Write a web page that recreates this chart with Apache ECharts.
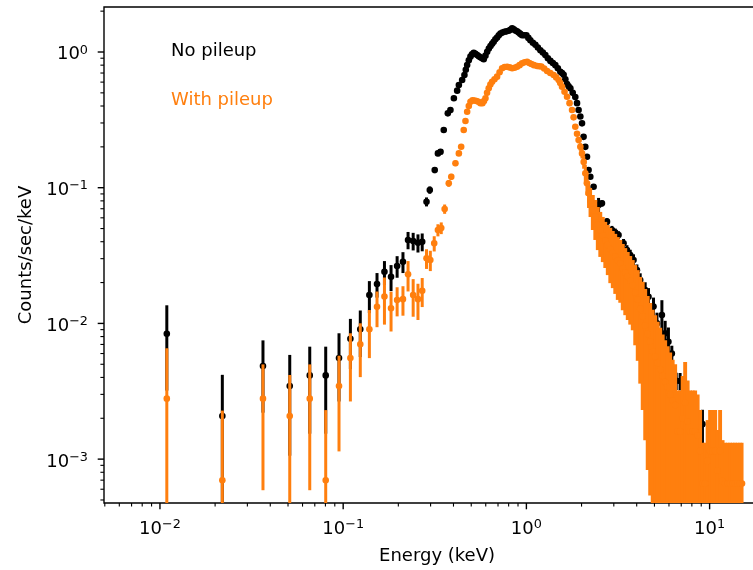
<!DOCTYPE html>
<html>
<head>
<meta charset="utf-8">
<script src="https://cdn.jsdelivr.net/npm/echarts@6/dist/echarts.min.js"></script>
<style>
html,body{margin:0;padding:0;background:#ffffff;overflow:hidden;}
#chart{width:753px;height:570px;}
</style>
</head>
<body>
<div id="chart"></div>
<script>
// ---- axis ranges and ticks ----
const X_MIN = 0.00495, X_MAX = 21.36;
const Y_MIN = 4.75e-4, Y_MAX = 2.146;
const xTickMajor = [0.01, 0.1, 1, 10];
const xTickMinor = [0.005, 0.006, 0.007, 0.008, 0.009,
  0.02, 0.03, 0.04, 0.05, 0.06, 0.07, 0.08, 0.09,
  0.2, 0.3, 0.4, 0.5, 0.6, 0.7, 0.8, 0.9,
  2, 3, 4, 5, 6, 7, 8, 9, 20];
const yTickMajor = [0.001, 0.01, 0.1, 1];
const yTickMinor = [0.0005, 0.0006, 0.0007, 0.0008, 0.0009,
  0.002, 0.003, 0.004, 0.005, 0.006, 0.007, 0.008, 0.009,
  0.02, 0.03, 0.04, 0.05, 0.06, 0.07, 0.08, 0.09,
  0.2, 0.3, 0.4, 0.5, 0.6, 0.7, 0.8, 0.9, 2];

const seriesNames = ['No pileup', 'With pileup'];

// ---- data: [energy keV, counts/sec/keV, error] ----
const noPileup = [
  [0.0109, 0.0084, 0.0052], [0.0219, 0.00208, 0.0021], [0.0365, 0.00485, 0.00265],
  [0.0511, 0.00346, 0.0024], [0.0657, 0.00414, 0.0026], [0.0803, 0.00414, 0.0026],
  [0.0949, 0.00556, 0.0029], [0.1095, 0.0077, 0.0031], [0.124, 0.00905, 0.0034],
  [0.139, 0.0162, 0.0043], [0.153, 0.0195, 0.0040], [0.168, 0.0240, 0.0048],
  [0.1825, 0.0221, 0.0048], [0.197, 0.0265, 0.0048], [0.212, 0.0285, 0.0050],
  [0.226, 0.0412, 0.0060], [0.241, 0.0405, 0.0060], [0.256, 0.0393, 0.0060],
  [0.270, 0.0400, 0.0060], [0.285, 0.0788, 0.0060], [0.297, 0.0962, 0.0060],
  [0.316, 0.135, 0.007], [0.329, 0.179, 0.008], [0.340, 0.184, 0.008],
  [0.354, 0.266, 0.009], [0.3725, 0.353, 0.010], [0.385, 0.374, 0.010],
  [0.402, 0.456, 0.011], [0.419, 0.519, 0.012], [0.428, 0.571, 0.012],
  [0.446, 0.622, 0.013], [0.459, 0.677, 0.013], [0.467, 0.74, 0.013],
  [0.475, 0.802, 0.014], [0.485, 0.87, 0.014], [0.495, 0.924, 0.015],
  [0.505, 0.96, 0.015], [0.516, 0.988, 0.016], [0.527, 0.97, 0.016],
  [0.539, 0.950, 0.016], [0.55, 0.93, 0.016], [0.561, 0.914, 0.016],
  [0.573, 0.90, 0.016], [0.585, 0.884, 0.016], [0.598, 0.94, 0.016],
  [0.611, 1.005, 0.017], [0.624, 1.06, 0.017], [0.637, 1.107, 0.018],
  [0.65, 1.15, 0.018], [0.663, 1.19, 0.018], [0.677, 1.24, 0.018],
  [0.692, 1.28, 0.019], [0.707, 1.33, 0.019], [0.722, 1.37, 0.019],
  [0.74, 1.39, 0.019], [0.759, 1.41, 0.020], [0.78, 1.42, 0.020],
  [0.801, 1.435, 0.020], [0.818, 1.46, 0.020], [0.836, 1.495, 0.020],
  [0.853, 1.47, 0.020], [0.871, 1.44, 0.020], [0.889, 1.42, 0.020],
  [0.908, 1.39, 0.020], [0.927, 1.36, 0.020], [0.947, 1.33, 0.020],
  [0.973, 1.33, 0.020], [1.0, 1.33, 0.020], [1.025, 1.27, 0.020],
  [1.051, 1.22, 0.019], [1.085, 1.17, 0.019], [1.12, 1.13, 0.019],
  [1.155, 1.08, 0.018], [1.192, 1.03, 0.018], [1.23, 0.99, 0.018],
  [1.269, 0.95, 0.017], [1.31, 0.90, 0.017], [1.352, 0.86, 0.016],
  [1.395, 0.83, 0.016], [1.439, 0.80, 0.016], [1.485, 0.76, 0.015],
  [1.532, 0.715, 0.015], [1.565, 0.70, 0.015], [1.597, 0.68, 0.014],
  [1.632, 0.63, 0.014], [1.667, 0.58, 0.013], [1.70, 0.56, 0.013],
  [1.738, 0.54, 0.013], [1.79, 0.50, 0.012], [1.849, 0.466, 0.012],
  [1.89, 0.42, 0.011], [1.927, 0.374, 0.011], [1.97, 0.335, 0.010],
  [2.012, 0.298, 0.010], [2.052, 0.237, 0.009], [2.097, 0.200, 0.008],
  [2.142, 0.169, 0.007], [2.185, 0.135, 0.006], [2.233, 0.1205, 0.0045],
  [2.327, 0.1017, 0.004], [2.477, 0.0746, 0.0095], [2.585, 0.0767, 0.004],
  [2.754, 0.0562, 0.0035], [2.931, 0.0488, 0.0035], [3.055, 0.0468, 0.0032],
  [3.184, 0.0448, 0.003], [3.39, 0.0389, 0.003], [3.538, 0.0347, 0.003],
  [3.688, 0.0319, 0.003], [3.843, 0.0293, 0.003], [4.01, 0.0247, 0.0025],
  [4.18, 0.0209, 0.0025], [4.45, 0.0176, 0.0025], [4.64, 0.0157, 0.0025],
  [4.94, 0.0133, 0.0022], [5.16, 0.0100, 0.0020], [5.49, 0.01153, 0.0033],
  [5.72, 0.00845, 0.0020], [5.96, 0.00733, 0.0020], [6.22, 0.0060, 0.00085],
  [6.57, 0.00378, 0.00055], [6.90, 0.00376, 0.00055], [9.14, 0.00181, 0.0005]
];

const withPileup = [
  [0.0109, 0.00279, 0.00377], [0.0219, 0.000698, 0.00158], [0.0365, 0.00279, 0.0022],
  [0.0511, 0.00208, 0.00209], [0.0657, 0.00279, 0.0022], [0.0803, 0.000698, 0.0016],
  [0.0949, 0.00346, 0.00232], [0.1095, 0.00556, 0.0029], [0.124, 0.00702, 0.0030],
  [0.139, 0.00905, 0.0035], [0.153, 0.01328, 0.0039], [0.168, 0.0158, 0.0060],
  [0.1825, 0.01292, 0.0042], [0.197, 0.01487, 0.0036], [0.212, 0.0151, 0.0037],
  [0.226, 0.0230, 0.0058], [0.241, 0.0162, 0.0050], [0.256, 0.0151, 0.0045],
  [0.270, 0.0174, 0.0042], [0.285, 0.0302, 0.0050], [0.299, 0.0293, 0.0050],
  [0.314, 0.0389, 0.0050], [0.329, 0.0488, 0.0050], [0.343, 0.0505, 0.0050],
  [0.358, 0.0697, 0.0055], [0.377, 0.1077, 0.006], [0.389, 0.1205, 0.006],
  [0.410, 0.1513, 0.007], [0.428, 0.179, 0.007], [0.4406, 0.2005, 0.008],
  [0.455, 0.266, 0.008], [0.465, 0.31, 0.008], [0.475, 0.363, 0.009],
  [0.485, 0.40, 0.009], [0.4953, 0.430, 0.010], [0.508, 0.44, 0.010],
  [0.5206, 0.439, 0.010], [0.534, 0.435, 0.010], [0.5475, 0.430, 0.010],
  [0.561, 0.42, 0.010], [0.5757, 0.419, 0.010], [0.587, 0.435, 0.010],
  [0.598, 0.456, 0.011], [0.61, 0.50, 0.011], [0.623, 0.540, 0.012],
  [0.636, 0.575, 0.012], [0.650, 0.604, 0.012], [0.67, 0.63, 0.012],
  [0.692, 0.658, 0.013], [0.714, 0.71, 0.013], [0.737, 0.759, 0.014],
  [0.76, 0.775, 0.014], [0.785, 0.779, 0.014], [0.81, 0.77, 0.014],
  [0.836, 0.759, 0.014], [0.862, 0.765, 0.014], [0.890, 0.779, 0.014],
  [0.918, 0.80, 0.015], [0.947, 0.826, 0.015], [0.978, 0.84, 0.015],
  [1.009, 0.848, 0.015], [1.037, 0.83, 0.015], [1.065, 0.816, 0.015],
  [1.10, 0.80, 0.015], [1.144, 0.789, 0.015], [1.175, 0.785, 0.015],
  [1.207, 0.782, 0.015], [1.25, 0.755, 0.014], [1.297, 0.724, 0.014],
  [1.35, 0.70, 0.014], [1.409, 0.677, 0.014], [1.455, 0.65, 0.013],
  [1.50, 0.622, 0.013], [1.53, 0.59, 0.012], [1.565, 0.555, 0.012],
  [1.615, 0.51, 0.012], [1.667, 0.468, 0.011], [1.72, 0.42, 0.011],
  [1.775, 0.374, 0.010], [1.81, 0.33, 0.010], [1.849, 0.2815, 0.009],
  [1.89, 0.25, 0.010], [1.928, 0.2246, 0.012], [1.97, 0.20, 0.013],
  [2.012, 0.179, 0.015], [2.055, 0.155, 0.017], [2.097, 0.1277, 0.020],
  [2.14, 0.108, 0.020], [2.185, 0.0909, 0.020],
  [2.233, 0.0802, 0.0194], [2.304, 0.0686, 0.0198], [2.377, 0.0612, 0.0200],
  [2.453, 0.0534, 0.0187], [2.531, 0.0486, 0.0177], [2.612, 0.0446, 0.0163],
  [2.695, 0.0408, 0.0152], [2.781, 0.0379, 0.0152], [2.870, 0.0352, 0.0154],
  [2.961, 0.0331, 0.0149], [3.055, 0.0311, 0.0146], [3.153, 0.0291, 0.0142],
  [3.253, 0.0277, 0.0135], [3.357, 0.0255, 0.0130], [3.464, 0.0237, 0.0122],
  [3.574, 0.0221, 0.0115], [3.688, 0.0206, 0.0108], [3.806, 0.0191, 0.0102],
  [3.926, 0.0169, 0.0100], [4.052, 0.0150, 0.0097], [4.181, 0.0128, 0.0092],
  [4.314, 0.0113, 0.0090], [4.451, 0.00964, 0.00826], [4.593, 0.00837, 0.00754],
  [4.739, 0.00734, 0.00680], [4.891, 0.0062, 0.0064], [5.047, 0.0057, 0.0058],
  [5.207, 0.0051, 0.0052], [5.373, 0.0046, 0.0047], [5.545, 0.0041, 0.0042],
  [5.721, 0.0037, 0.0038], [5.904, 0.0034, 0.0034], [6.092, 0.0030, 0.0031],
  [6.286, 0.0027, 0.0027], [6.486, 0.0025, 0.0025], [6.693, 0.0016, 0.0016],
  [6.906, 0.0016, 0.0016], [7.127, 0.0020, 0.0021], [7.354, 0.0026, 0.0026],
  [7.588, 0.0019, 0.0019], [7.830, 0.0016, 0.0016], [8.080, 0.0016, 0.0016],
  [8.337, 0.0016, 0.0016], [8.603, 0.0015, 0.0015], [8.877, 0.00115, 0.00115],
  [9.160, 0.00066, 0.00066], [9.452, 0.00066, 0.00066], [9.752, 0.00097, 0.00097],
  [10.06, 0.00115, 0.00115], [10.38, 0.00115, 0.00115], [10.72, 0.00115, 0.00115],
  [11.06, 0.00082, 0.00082], [11.41, 0.00115, 0.00115], [11.77, 0.00069, 0.00069],
  [12.15, 0.00066, 0.00066], [12.54, 0.00066, 0.00066], [12.94, 0.00066, 0.00066],
  [13.35, 0.00066, 0.00066], [13.77, 0.00066, 0.00066], [14.21, 0.00066, 0.00066],
  [14.66, 0.00066, 0.00066], [15.03, 0.00066, 0.00066]
];

// ---- styles ----
const FONT = 'DejaVu Sans';
const BLACK = '#000000';
const ORANGE = '#ff7f0e';
const BAR_W = 3;
const DOT_R = 3.3;

function powerLabel(v) {
  const l = Math.log10(v);
  const r = Math.round(l);
  if (Math.abs(l - r) > 1e-6) return '';
  const exp = r < 0 ? '\u2212' + (-r) : String(r);
  return '{b|10}{s|' + exp + '}';
}
const labelRich = {
  b: { fontSize: 18, fontFamily: FONT, color: '#000', lineHeight: 22 },
  s: { fontSize: 12.8, fontFamily: FONT, color: '#000', lineHeight: 12.8, verticalAlign: 'top' }
};

function barsRender(color, rows) {
  return function (params, api) {
    const i = params.dataIndex;
    const e = api.value(0), v = api.value(1), er = api.value(2);
    const lo = Math.max(v - er, Y_MIN * 0.5);
    const t = api.coord([e, v + er]);
    const b = api.coord([e, lo]);
    // widen bars where neighbouring bins are closer than the bar width, so dense bins merge
    let w = BAR_W;
    if (i > 0 && i < rows.length - 1) {
      const xp = api.coord([rows[i - 1][0], v])[0];
      const xn = api.coord([rows[i + 1][0], v])[0];
      const gap = (xn - xp) / 2;
      if (gap < BAR_W) w = gap + 1.4;
    }
    return { type: 'line', shape: { x1: t[0], y1: t[1], x2: b[0], y2: b[1] },
      style: { stroke: color, lineWidth: w } };
  };
}
function dotsRender(color) {
  return function (params, api) {
    const p = api.coord([api.value(0), api.value(1)]);
    return { type: 'circle', shape: { cx: p[0], cy: p[1], r: DOT_R }, style: { fill: color } };
  };
}
function xTickRender(params, api) {
  const p = api.coord([api.value(0), Y_MIN]);
  const len = api.value(2);
  return { type: 'line', shape: { x1: p[0], y1: p[1], x2: p[0], y2: p[1] + len },
    style: { stroke: '#000', lineWidth: len > 5 ? 1.4 : 1.1 } };
}
function yTickRender(params, api) {
  const p = api.coord([X_MIN, api.value(1)]);
  const len = api.value(2);
  return { type: 'line', shape: { x1: p[0], y1: p[1], x2: p[0] - len, y2: p[1] },
    style: { stroke: '#000', lineWidth: len > 5 ? 1.4 : 1.1 } };
}

const MAJOR_LEN = 6.3, MINOR_LEN = 3.6;
const xTickData = xTickMajor.map(v => [v, Y_MIN, MAJOR_LEN])
  .concat(xTickMinor.map(v => [v, Y_MIN, MINOR_LEN]));
const yTickData = yTickMajor.map(v => [X_MIN, v, MAJOR_LEN])
  .concat(yTickMinor.map(v => [X_MIN, v, MINOR_LEN]));

const chart = echarts.init(document.getElementById('chart'), null, { renderer: 'canvas' });
chart.setOption({
  animation: false,
  backgroundColor: '#ffffff',
  grid: { left: 104, top: 7, width: 666, height: 496, show: true,
    outerBoundsMode: 'none', containLabel: false,
    borderColor: '#000', borderWidth: 1.4, backgroundColor: 'transparent' },
  legend: {
    orient: 'vertical', left: 161, top: 37, itemWidth: 0, itemHeight: 18, itemGap: 31,
    icon: 'none', selectedMode: false,
    textStyle: { fontSize: 18, fontFamily: FONT },
    data: [
      { name: seriesNames[0], textStyle: { color: BLACK } },
      { name: seriesNames[1], textStyle: { color: ORANGE } }
    ]
  },
  xAxis: {
    type: 'log', logBase: 10, min: X_MIN, max: X_MAX,
    axisLine: { show: false }, axisTick: { show: false }, splitLine: { show: false },
    minorTick: { show: false }, minorSplitLine: { show: false },
    axisLabel: { formatter: powerLabel, margin: 15, rich: labelRich },
    name: 'Energy (keV)', nameLocation: 'middle', nameGap: 44,
    nameTextStyle: { fontSize: 18, fontFamily: FONT, color: '#000' }
  },
  yAxis: {
    type: 'log', logBase: 10, min: Y_MIN, max: Y_MAX,
    axisLine: { show: false }, axisTick: { show: false }, splitLine: { show: false },
    minorTick: { show: false }, minorSplitLine: { show: false },
    axisLabel: { formatter: powerLabel, margin: 16, rich: labelRich, padding: [5.6, 0, 0, 0] },
    name: 'Counts/sec/keV', nameLocation: 'middle', nameGap: 63,
    nameTextStyle: { fontSize: 18, fontFamily: FONT, color: '#000' }
  },
  series: [
    { type: 'custom', name: seriesNames[0], coordinateSystem: 'cartesian2d', clip: true, silent: true,
      renderItem: barsRender(BLACK, noPileup), data: noPileup, encode: { x: 0, y: 1 }, color: BLACK },
    { type: 'custom', name: seriesNames[0], coordinateSystem: 'cartesian2d', clip: true, silent: true,
      renderItem: dotsRender(BLACK), data: noPileup, encode: { x: 0, y: 1 }, color: BLACK },
    { type: 'custom', name: seriesNames[1], coordinateSystem: 'cartesian2d', clip: true, silent: true,
      renderItem: barsRender(ORANGE, withPileup), data: withPileup, encode: { x: 0, y: 1 }, color: ORANGE },
    { type: 'custom', name: seriesNames[1], coordinateSystem: 'cartesian2d', clip: true, silent: true,
      renderItem: dotsRender(ORANGE), data: withPileup, encode: { x: 0, y: 1 }, color: ORANGE },
    { type: 'custom', name: 'xticks', coordinateSystem: 'cartesian2d', clip: false, silent: true,
      renderItem: xTickRender, data: xTickData, encode: { x: 0, y: 1 } },
    { type: 'custom', name: 'yticks', coordinateSystem: 'cartesian2d', clip: false, silent: true,
      renderItem: yTickRender, data: yTickData, encode: { x: 0, y: 1 } }
  ]
});
</script>
</body>
</html>
